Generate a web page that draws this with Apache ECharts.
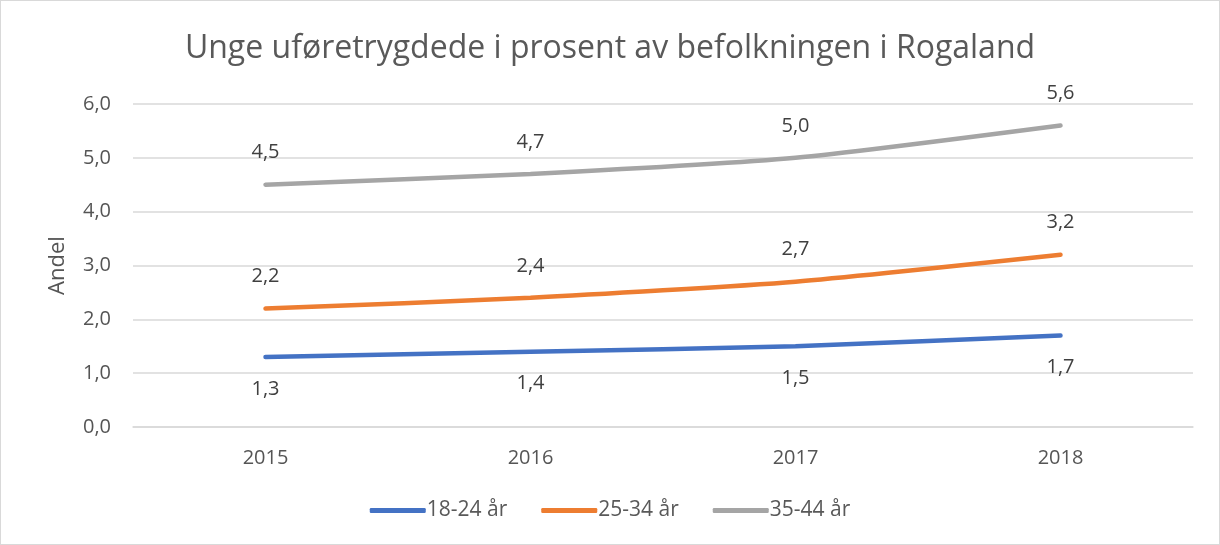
<!DOCTYPE html>
<html>
<head>
<meta charset="utf-8">
<script src="https://cdn.jsdelivr.net/npm/echarts@6/dist/echarts.min.js"></script>
<style>
  html, body { margin: 0; padding: 0; background: #fff; }
  #chart { width: 1218px; height: 543px; border: 1px solid #d9d9d9; }
</style>
</head>
<body>
<div id="chart"></div>
<script>
  // data
  var years = ['2015', '2016', '2017', '2018'];
  var age1824 = [1.3, 1.4, 1.5, 1.7];
  var age2534 = [2.2, 2.4, 2.7, 3.2];
  var age3544 = [4.5, 4.7, 5.0, 5.6];

  var font = 'Open Sans, Liberation Sans, sans-serif';

  function fmt(p) {
    return p.value.toFixed(1).replace('.', ',');
  }

  function serie(name, data, color, pos) {
    return {
      name: name,
      type: 'line',
      data: data,
      smooth: 0.2,
      symbol: 'circle',
      symbolSize: 0,
      lineStyle: { width: 4.5, color: color, cap: 'round' },
      itemStyle: { color: color },
      label: {
        show: true,
        position: pos,
        distance: 22,
        formatter: fmt,
        fontSize: 20,
        color: '#404040',
        fontFamily: font
      }
    };
  }

  var chart = echarts.init(document.getElementById('chart'));
  chart.setOption({
    animation: false,
    title: {
      text: 'Unge uføretrygdede i prosent av befolkningen i Rogaland',
      left: 'center',
      top: 27,
      textStyle: { fontSize: 32, fontWeight: 'normal', color: '#595959', fontFamily: font }
    },
    grid: { left: 132, right: 26, top: 103, bottom: 117 },
    legend: {
      bottom: 18,
      left: 'center',
      itemWidth: 56,
      itemHeight: 5,
      itemGap: 34,
      icon: 'roundRect',
      textStyle: { fontSize: 21, color: '#595959', fontFamily: font, padding: [0, 0, 0, -4] },
      data: ['18-24 år', '25-34 år', '35-44 år']
    },
    xAxis: {
      type: 'category',
      data: years,
      boundaryGap: true,
      axisLine: { show: true, lineStyle: { color: '#d9d9d9', width: 1.5 } },
      axisTick: { show: false },
      axisLabel: { fontSize: 20, color: '#555555', margin: 21, fontFamily: font }
    },
    yAxis: {
      type: 'value',
      min: 0,
      max: 6,
      interval: 1,
      name: 'Andel',
      nameLocation: 'middle',
      nameGap: 64,
      nameTextStyle: { fontSize: 22, color: '#555555', fontFamily: font },
      axisLine: { show: false },
      axisTick: { show: false },
      axisLabel: {
        fontSize: 20, color: '#555555', margin: 22, fontFamily: font,
        formatter: function (v) { return v.toFixed(1).replace('.', ','); }
      },
      splitLine: { lineStyle: { color: '#d9d9d9', width: 1.5 } }
    },
    series: [
      serie('18-24 år', age1824, '#4472C4', 'bottom'),
      serie('25-34 år', age2534, '#ED7D31', 'top'),
      serie('35-44 år', age3544, '#A5A5A5', 'top')
    ]
  });
</script>
</body>
</html>
